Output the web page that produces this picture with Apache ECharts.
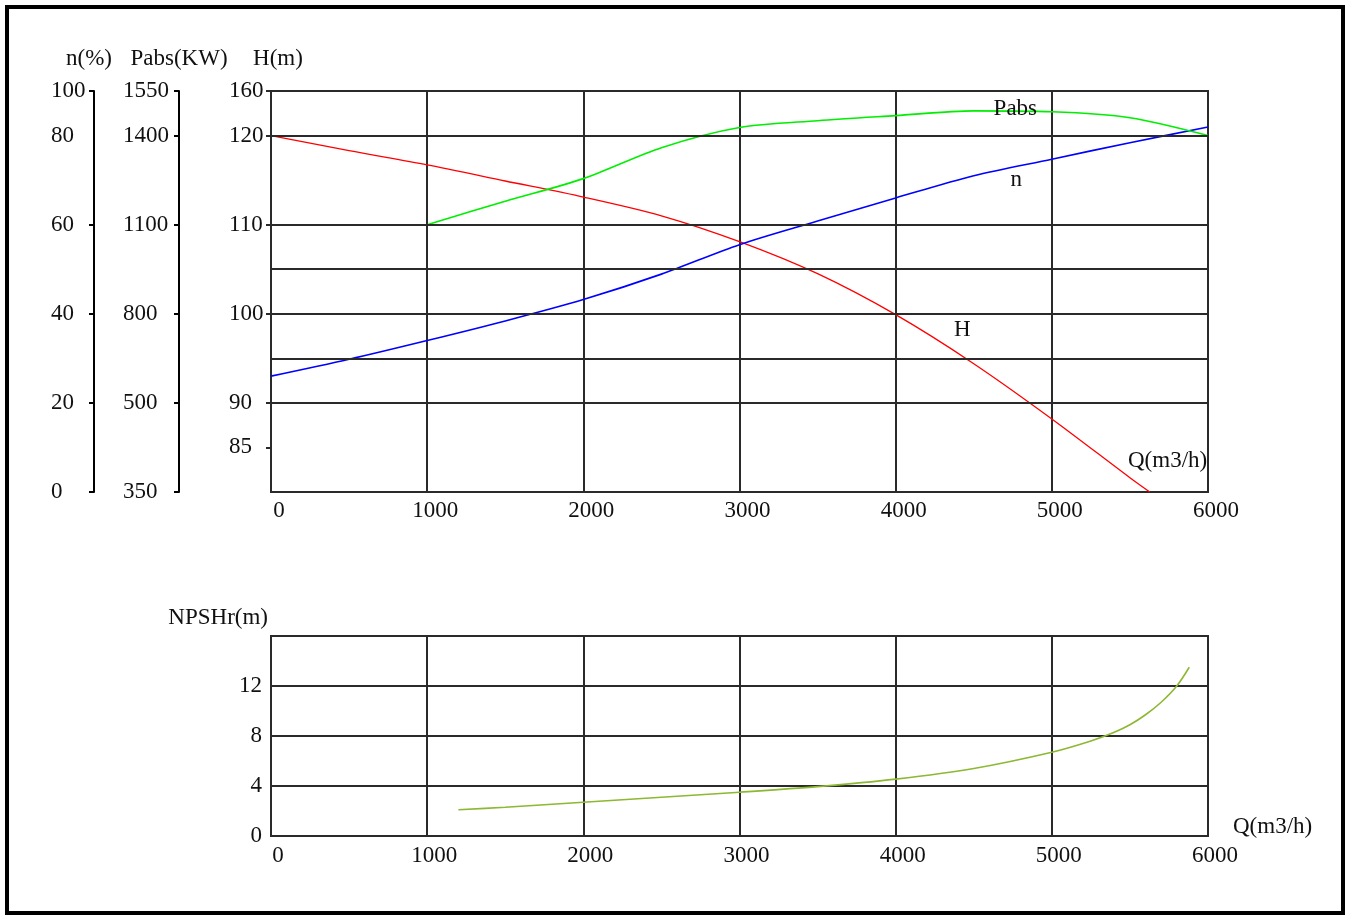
<!DOCTYPE html>
<html>
<head>
<meta charset="utf-8">
<script src="https://cdn.jsdelivr.net/npm/echarts@6/dist/echarts.min.js"></script>
<style>
  html, body { margin: 0; padding: 0; background: #fff; }
  #chart { width: 1349px; height: 917px; }
</style>
</head>
<body>
<div id="chart"></div>
<script>
// Pump performance curves: head, efficiency, absorbed power and NPSHr vs flow.

// Flow Q (m3/h) sample points
const HEAD_Q = [0, 500, 1000, 1500, 2000, 2500, 3000, 3500, 4000, 4500, 5000, 5500, 5627];
const HEAD_M = [120, 118.3, 116.7, 114.9, 113.1, 111.0, 108.1, 104.5, 99.9, 94.4, 88.2, 81.6, 80];

const EFF_Q = [0, 500, 1000, 1500, 2000, 2500, 3000, 3500, 4000, 4500, 5000, 5500, 6000];
const EFF_PCT = [26.0, 29.8, 34.0, 38.4, 43.2, 48.9, 55.5, 60.8, 66.0, 71.0, 74.7, 78.4, 81.9];

const POWER_Q = [1000, 1500, 2000, 2500, 3000, 3500, 4000, 4500, 5000, 5500, 6000];
const POWER_KW = [1100, 1179, 1255, 1359, 1427, 1450, 1467, 1483, 1480, 1460, 1400];

const NPSH_Q = [1200, 1500, 2000, 2500, 3000, 3500, 4000, 4500, 5000, 5250, 5400, 5500, 5600, 5700, 5800, 5880];
const NPSH_M = [2.1, 2.3, 2.7, 3.1, 3.5, 3.95, 4.55, 5.4, 6.7, 7.6, 8.3, 8.9, 9.7, 10.7, 12.0, 13.5];

// Axis tick values and the text printed at them
const H_TICKS = [85, 90, 100, 110, 120, 125];
const H_TEXT = ['85', '90', '100', '110', '120', '160'];
const H_GRID = [90, 95, 100, 105, 110, 120];

const N_TICKS = [0, 20, 40, 60, 80, 90];
const N_TEXT = ['0', '20', '40', '60', '80', '100'];
const N_TICK_MARKS = [0, 20, 40, 60, 90];

const P_TICKS = [200, 500, 800, 1100, 1400, 1550];
const P_TEXT = ['350', '500', '800', '1100', '1400', '1550'];

const FONT = 'Liberation Serif';
const FS = 23;
const INK = '#111';
const GRID_INK = '#2a2a2a';

function pairs(xs, ys, labelAt, label) {
  return xs.map((q, i) => {
    if (q === labelAt) {
      return { value: [q, ys[i]], label: Object.assign({ show: true }, label) };
    }
    return [q, ys[i]];
  });
}

function lookup(ticks, text) {
  return v => {
    const i = ticks.indexOf(Math.round(v * 1000) / 1000);
    return i >= 0 ? text[i] : '';
  };
}

const plain = v => String(v);

// curve name text, placed relative to one of the curve's points
const tag = (text, dx, dy) => ({
  formatter: text, position: [dx, dy], align: 'center', verticalAlign: 'middle',
  fontFamily: FONT, fontSize: FS, color: INK
});

const chart = echarts.init(document.getElementById('chart'), null, { renderer: 'canvas' });

const curve = (name, color, width) => ({
  name,
  type: 'line',
  smooth: 0.3,
  symbol: 'circle',
  symbolSize: 1,
  showSymbol: true,
  showAllSymbol: true,
  silent: true,
  z: 3,
  emphasis: { disabled: true },
  lineStyle: { color, width },
  itemStyle: { color: 'transparent', borderWidth: 0 },
  label: { show: false },
  labelLayout: { hideOverlap: false }
});

chart.setOption({
  animation: false,
  backgroundColor: '#fff',
  grid: [
    { left: 271, top: 91, right: 141, height: 401, show: true, borderColor: GRID_INK, borderWidth: 2, containLabel: false },
    { left: 271, top: 636, right: 141, height: 200, show: true, borderColor: GRID_INK, borderWidth: 2, containLabel: false }
  ],
  xAxis: [
    {
      gridIndex: 0, type: 'value', min: 0, max: 6000, interval: 1000,
      axisLine: { show: true, lineStyle: { color: GRID_INK, width: 2 } },
      axisTick: { show: false },
      splitLine: { show: true, lineStyle: { color: GRID_INK, width: 2 } },
      axisLabel: { formatter: plain, margin: 7, padding: [0, 0, 0, 16], fontFamily: FONT, fontSize: FS, color: INK },
      name: 'Q(m3/h)', nameLocation: 'end', nameGap: -80, nameMoveOverlap: false,
      nameTextStyle: { fontFamily: FONT, fontSize: FS, color: INK, verticalAlign: 'bottom', padding: [0, 0, 20, 0] }
    },
    {
      gridIndex: 1, type: 'value', min: 0, max: 6000, interval: 1000,
      axisLine: { show: true, lineStyle: { color: GRID_INK, width: 2 } },
      axisTick: { show: false },
      splitLine: { show: true, lineStyle: { color: GRID_INK, width: 2 } },
      axisLabel: { formatter: plain, margin: 8, padding: [0, 0, 0, 14], fontFamily: FONT, fontSize: FS, color: INK },
      name: 'Q(m3/h)', nameLocation: 'end', nameGap: 25, nameMoveOverlap: false,
      nameTextStyle: { fontFamily: FONT, fontSize: FS, color: INK, verticalAlign: 'bottom', lineHeight: 18 }
    }
  ],
  yAxis: [
    {
      // head H (m)
      gridIndex: 0, type: 'value', position: 'left', offset: 0, min: 80, max: 125, interval: 5,
      axisLine: { show: true, lineStyle: { color: GRID_INK, width: 2 } },
      axisTick: { show: true, length: 5, customValues: H_TICKS, lineStyle: { color: GRID_INK, width: 2 } },
      axisLabel: { customValues: H_TICKS, formatter: lookup(H_TICKS, H_TEXT), align: 'left', margin: 42, fontFamily: FONT, fontSize: FS, color: INK },
      splitLine: { show: false },
      name: 'H(m)', nameLocation: 'end', nameGap: 21,
      nameTextStyle: { fontFamily: FONT, fontSize: FS, color: INK, align: 'center', padding: [0, 0, 0, 14] }
    },
    {
      // efficiency n (%)
      gridIndex: 0, type: 'value', position: 'left', offset: 177, min: 0, max: 90, interval: 10,
      axisLine: { show: true, lineStyle: { color: '#000', width: 2 } },
      axisTick: { show: true, length: 5, customValues: N_TICK_MARKS, lineStyle: { color: '#000', width: 2 } },
      axisLabel: { customValues: N_TICKS, formatter: lookup(N_TICKS, N_TEXT), align: 'left', margin: 43, fontFamily: FONT, fontSize: FS, color: INK },
      splitLine: { show: false },
      name: 'n(%)', nameLocation: 'end', nameGap: 21,
      nameTextStyle: { fontFamily: FONT, fontSize: FS, color: INK, align: 'center', padding: [0, 10, 0, 0] }
    },
    {
      // absorbed power Pabs (kW)
      gridIndex: 0, type: 'value', position: 'left', offset: 92, min: 200, max: 1550, interval: 150,
      axisLine: { show: true, lineStyle: { color: '#000', width: 2 } },
      axisTick: { show: true, length: 5, customValues: P_TICKS, lineStyle: { color: '#000', width: 2 } },
      axisLabel: { customValues: P_TICKS, formatter: lookup(P_TICKS, P_TEXT), align: 'left', margin: 56, fontFamily: FONT, fontSize: FS, color: INK },
      splitLine: { show: false },
      name: 'Pabs(KW)', nameLocation: 'end', nameGap: 21,
      nameTextStyle: { fontFamily: FONT, fontSize: FS, color: INK, align: 'center' }
    },
    {
      // NPSHr (m)
      gridIndex: 1, type: 'value', position: 'left', min: 0, max: 16, interval: 4,
      axisLine: { show: true, lineStyle: { color: GRID_INK, width: 2 } },
      axisTick: { show: false },
      axisLabel: { showMaxLabel: false, margin: 9, fontFamily: FONT, fontSize: FS, color: INK },
      splitLine: { show: true, lineStyle: { color: GRID_INK, width: 2 } },
      name: 'NPSHr(m)', nameLocation: 'end', nameGap: 7,
      nameTextStyle: { fontFamily: FONT, fontSize: FS, color: INK, align: 'right', padding: [0, 3, 0, 0] }
    }
  ],
  series: [
    {
      // horizontal grid lines of the head chart
      name: 'grid', type: 'line', xAxisIndex: 0, yAxisIndex: 0,
      data: pairs(HEAD_Q, HEAD_M), silent: true, z: 1,
      showSymbol: false, lineStyle: { opacity: 0 },
      markLine: {
        silent: true, symbol: 'none', animation: false,
        label: { show: false },
        lineStyle: { color: GRID_INK, width: 2, type: 'solid' },
        emphasis: { disabled: true },
        data: H_GRID.map(v => ({ yAxis: v }))
      }
    },
    Object.assign(curve('H', '#ff0000', 1.3), {
      xAxisIndex: 0, yAxisIndex: 0,
      data: pairs(HEAD_Q, HEAD_M, 4500, tag('H', -11, -33))
    }),
    Object.assign(curve('n', '#0000ff', 1.6), {
      xAxisIndex: 0, yAxisIndex: 1,
      data: pairs(EFF_Q, EFF_PCT, 5000, tag('n', -35, 21))
    }),
    Object.assign(curve('Pabs', '#00ee00', 1.6), {
      xAxisIndex: 0, yAxisIndex: 2,
      data: pairs(POWER_Q, POWER_KW, 5000, tag('Pabs', -36, -2))
    }),
    Object.assign(curve('NPSHr', '#8cb832', 1.6), {
      xAxisIndex: 1, yAxisIndex: 3,
      data: pairs(NPSH_Q, NPSH_M)
    })
  ],
  graphic: [
    {
      type: 'rect', z: 100, silent: true,
      shape: { x: 7, y: 7, width: 1336, height: 906 },
      style: { fill: 'none', stroke: '#000', lineWidth: 4 }
    }
  ]
});
</script>
</body>
</html>
